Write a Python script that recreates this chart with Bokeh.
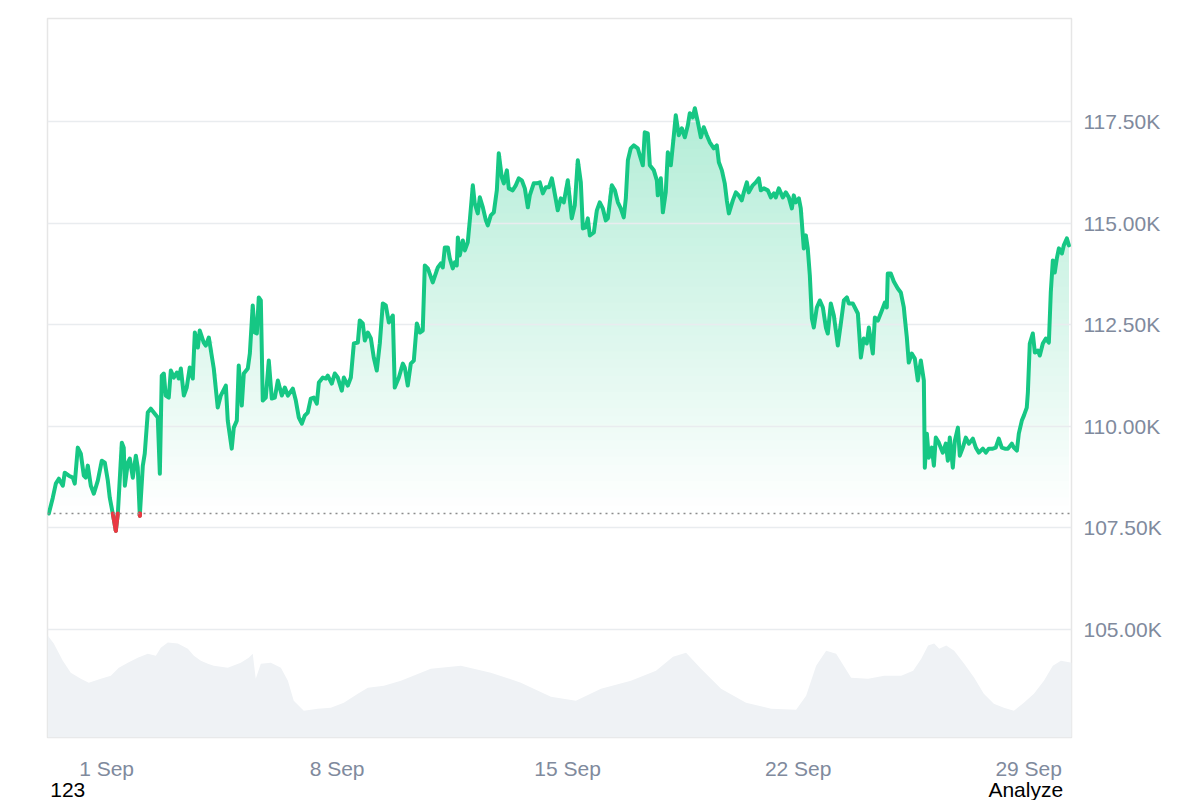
import numpy as np
from bokeh.plotting import figure
from bokeh.models import FixedTicker, Range1d, Span, LinearAxis
from bokeh.embed import file_html
from bokeh.resources import INLINE

# ---- data: hours since 1 Sep 00:00, price in USD ----
hours = [
    -42.1, -39.2, -37.0, -34.8, -31.9, -30.5, -27.5, -24.6, -23.2, -21.0,
    -18.8, -16.6, -15.2, -13.7, -11.5, -9.3, -6.4, -3.5, -1.3, 0.9,
    2.3, 4.5, 6.7, 8.2, 11.1, 12.5, 13.3, 15.5, 16.9, 19.1,
    21.3, 22.7, 24.2, 26.4, 27.8, 30.0, 32.2, 34.4, 37.3, 38.8,
    40.2, 41.7, 43.1, 45.3, 46.8, 49.0, 51.2, 52.6, 54.1, 56.3,
    58.4, 60.6, 62.8, 64.3, 66.5, 67.9, 70.8, 72.3, 74.5, 78.1,
    81.0, 83.2, 86.9, 88.3, 91.2, 92.7, 94.9, 96.3, 98.5, 100.0,
    102.9, 104.4, 106.5, 108.0, 109.5, 110.9, 112.4, 113.8, 116.0, 118.2,
    120.4, 122.6, 124.8, 127.7, 129.9, 132.1, 135.7, 137.9, 140.1, 142.3,
    144.4, 146.6, 148.8, 151.0, 153.2, 154.7, 157.6, 159.8, 161.2, 164.1,
    166.3, 168.5, 171.4, 172.9, 175.8, 178.0, 180.2, 183.1, 184.5, 186.7,
    188.2, 190.4, 192.6, 194.7, 196.9, 199.1, 201.3, 203.5, 205.7, 208.6,
    210.0, 213.0, 215.9, 217.3, 219.5, 221.7, 223.9, 226.1, 228.3, 230.4,
    231.9, 234.1, 237.7, 241.4, 243.6, 245.0, 246.5, 248.7, 250.1, 252.3,
    253.8, 255.2, 256.0, 257.4, 259.6, 261.1, 263.2, 264.7, 266.9, 268.3,
    270.5, 272.0, 274.2, 276.4, 277.8, 280.0, 282.2, 284.4, 285.8, 288.0,
    289.5, 291.7, 293.1, 296.0, 298.2, 300.4, 302.6, 304.8, 307.0, 308.4,
    311.3, 313.5, 315.7, 317.9, 320.1, 322.3, 324.5, 325.9, 328.8, 331.0,
    333.2, 336.1, 339.0, 341.2, 343.4, 345.6, 347.1, 349.2, 350.7, 352.2,
    355.1, 357.3, 359.4, 361.6, 363.8, 365.3, 368.2, 370.4, 372.6, 374.7,
    376.9, 378.4, 379.9, 382.0, 384.2, 387.1, 388.6, 390.8, 392.2, 394.4,
    395.9, 398.8, 401.0, 401.7, 403.9, 405.4, 407.5, 409.0, 411.2, 413.4,
    414.8, 417.0, 419.2, 421.4, 423.6, 425.0, 427.2, 428.7, 430.9, 433.1,
    435.2, 437.4, 439.6, 442.5, 444.7, 446.2, 448.4, 450.5, 452.0, 453.5,
    456.4, 458.6, 460.7, 462.9, 464.4, 466.6, 468.0, 470.9, 473.1, 475.3,
    476.8, 479.0, 481.9, 484.1, 486.3, 487.7, 489.9, 492.8, 495.0, 497.2,
    499.4, 500.8, 502.3, 504.5, 505.9, 508.1, 509.6, 511.0, 512.5, 514.0,
    515.4, 517.6, 519.8, 522.0, 524.2, 525.6, 527.8, 530.0, 532.9, 535.1,
    537.3, 539.5, 540.9, 543.8, 545.3, 547.5, 549.7, 551.8, 554.0, 555.5,
    558.4, 559.9, 562.1, 565.0, 567.2, 568.6, 569.3, 571.5, 573.7, 576.6,
    578.8, 581.0, 581.7, 583.2, 584.6, 586.8, 589.0, 591.2, 593.4, 595.6,
    596.3, 597.8, 599.2, 601.4, 602.9, 604.3, 606.5, 609.4, 611.6, 613.1,
    614.5, 616.7, 618.2, 620.4, 621.8, 624.0, 626.2, 628.4, 631.3, 633.5,
    635.7, 638.6, 640.8, 642.9, 645.9, 648.0, 650.2, 652.4, 654.6, 656.8,
    659.7, 661.2, 663.4, 664.8, 667.0, 668.5, 670.6, 671.4, 672.8, 675.0,
    676.5, 678.7, 680.1, 682.3, 684.5, 686.7, 688.1, 689.6, 691.0, 692.5,
    694.0, 696.2, 697.6, 699.8, 701.3,
]
prices = [
    107850, 108240, 108586, 108709, 108536, 108857, 108783, 108734, 108586, 109474,
    109326, 108783, 108734, 109030, 108536, 108339, 108660, 109153, 109104, 108660,
    108240, 107850, 107426, 107850, 109597, 109474, 108536, 109104, 109202, 108734,
    109276, 108980, 107796, 109030, 109326, 110338, 110436, 110338, 110214, 108832,
    111250, 111300, 110757, 110707, 111374, 111201, 111324, 111176, 111423, 110757,
    110954, 111448, 111176, 112311, 111941, 112360, 112064, 111990, 112188, 111423,
    110461, 110757, 111004, 110140, 109449, 109968, 110140, 111497, 110510, 111300,
    111423, 111793, 112977, 112311, 112287, 113175, 113101, 110634, 110707, 111620,
    110683, 110707, 111127, 110757, 110954, 110757, 110930, 110634, 110214, 110066,
    110263, 110338, 110683, 110707, 110559, 111078, 111201, 111176, 111250, 111053,
    111300, 111201, 110880, 111201, 111004, 111201, 112040, 112064, 112607, 112533,
    112114, 112311, 112163, 111694, 111374, 112040, 113027, 112977, 112558, 112730,
    110954, 111201, 111546, 111448, 111004, 111546, 111620, 112533, 112311, 112360,
    113964, 113890, 113545, 113915, 114014, 113915, 114409, 114409, 114137, 113890,
    114039, 113964, 114655, 114211, 114581, 114334, 114532, 115074, 115938, 115494,
    115247, 115642, 115396, 115074, 114951, 115198, 115272, 115815, 116728, 116136,
    115988, 116308, 115864, 115815, 115938, 116111, 116062, 115864, 115396, 115692,
    115988, 115988, 116012, 115741, 115889, 115889, 116111, 115864, 115322, 115617,
    115519, 116062, 115124, 115445, 116555, 116012, 114877, 114902, 115124, 114704,
    114778, 115322, 115519, 115371, 115074, 115124, 115938, 115815, 115519, 115371,
    115148, 115617, 116555, 116851, 116925, 116851, 116678, 116432, 117246, 117221,
    116432, 116308, 116062, 115692, 116111, 115272, 115766, 116752, 116432, 117172,
    117665, 117172, 117345, 117123, 117419, 117715, 117616, 117838, 117493, 117123,
    117369, 117172, 116999, 116851, 116925, 116506, 116308, 115987, 115568, 115247,
    115568, 115765, 115691, 115568, 115765, 116012, 115765, 115938, 116012, 116111,
    115815, 115864, 115815, 115642, 115741, 115642, 115864, 115642, 115765, 115642,
    115371, 115691, 115519, 115617, 115371, 114384, 114705, 114384, 113717, 112657,
    112434, 112928, 113101, 112928, 112434, 112286, 113027, 112731, 111991, 112533,
    113101, 113175, 113027, 113027, 112928, 112780, 111694, 112163, 112040, 112434,
    111793, 112681, 112607, 112854, 113052, 112928, 113767, 113767, 113569, 113397,
    113298, 112928, 112681, 112188, 111571, 111793, 111670, 111127, 111620, 111127,
    108980, 109819, 109227, 109474, 109030, 109721, 109597, 109350, 109572, 109153,
    109721, 108980, 109646, 109967, 109276, 109474, 109721, 109572, 109696, 109474,
    109350, 109449, 109350, 109449, 109449, 109474, 109696, 109474, 109449, 109449,
    109572, 109474, 109400, 109819, 110140, 110263, 110461, 110831, 112040, 112287,
    111818, 111867, 111744, 112040, 112163, 112064, 113298, 114088, 113791, 114137,
    114384, 114260, 114458, 114630, 114458,
]

# ---- volume (billions USD) ----
vol_hours = [
    -42.9, -38.5, -31.9, -26.1, -18.8, -13.0, -4.2, 3.1, 8.9, 15.5,
    22.7, 30.0, 35.9, 39.5, 44.6, 51.9, 59.2, 63.6, 68.7, 73.8,
    78.1, 88.3, 97.8, 103.6, 106.5, 108.7, 112.4, 119.7, 127.0, 132.1,
    136.4, 143.7, 153.9, 163.4, 172.9, 183.1, 190.4, 202.1, 214.5, 236.3,
    258.2, 280.0, 301.9, 323.8, 342.0, 360.3, 382.1, 400.4, 412.8, 422.3,
    433.2, 447.8, 466.0, 484.3, 502.5, 509.8, 517.1, 524.4, 531.7, 542.6,
    555.0, 566.7, 579.1, 587.8, 593.7, 598.7, 603.1, 606.8, 611.9, 617.7,
    625.0, 632.3, 639.3, 646.6, 653.9, 661.2, 668.5, 675.8, 683.1, 689.6,
    695.5, 703.5,
]
volumes = [
    50.9, 46.9, 38.4, 32.4, 29.4, 27.4, 29.4, 30.9, 34.9, 37.4,
    39.9, 41.9, 40.9, 44.9, 47.4, 46.9, 44.4, 40.9, 38.4, 36.9,
    35.9, 34.9, 37.4, 39.9, 41.9, 29.4, 36.9, 37.4, 34.9, 28.4,
    18.4, 13.4, 14.4, 14.9, 17.4, 21.9, 24.9, 25.9, 28.4, 34.4,
    35.9, 32.4, 27.4, 20.4, 18.4, 24.4, 28.4, 33.4, 40.4, 42.4,
    34.4, 24.4, 17.4, 14.4, 13.9, 20.9, 35.9, 43.4, 41.9, 29.9,
    29.4, 30.9, 30.9, 33.4, 39.4, 45.9, 46.9, 44.4, 45.9, 43.4,
    36.9, 29.9, 21.9, 16.9, 14.9, 13.4, 17.4, 21.9, 28.4, 35.9,
    38.4, 37.4,
]

x_ticks = [0, 168, 336, 504, 672]
x_labels = ["1 Sep", "8 Sep", "15 Sep", "22 Sep", "29 Sep"]
y_ticks = [105000, 107500, 110000, 112500, 115000, 117500]
y_labels = ["105.00K", "107.50K", "110.00K", "112.50K", "115.00K", "117.50K"]
footer_ticks = [-28.3, 669.9]
footer_labels = ["123", "Analyze"]

GREEN_RGB = (22, 199, 132)
GREEN = "#16c784"
RED = "#ea3943"
FONT = "Liberation Sans"

p = figure(frame_width=1024, frame_height=719, output_backend="svg", toolbar_location=None,
           x_range=Range1d(-43.07, 703.2), y_range=Range1d(102330, 120050),
           y_axis_location="right",
           min_border_left=47, min_border_top=18, min_border_right=121, min_border_bottom=40)
p.extra_y_ranges = {"vol": Range1d(0, 359.2)}
p.background_fill_color = "white"
p.border_fill_color = "white"
p.outline_line_color = "#e6e6e6"
p.outline_line_width = 1.5

# volume
p.varea(x=vol_hours, y1=[0] * len(volumes), y2=volumes, y_range_name="vol",
        fill_color="#eff2f5", fill_alpha=1.0)

h = np.array(hours, dtype=float)
pr = np.array(prices, dtype=float)
base = prices[0]
top = pr.max()

# gradient fill: opaque bands painted bottom-up, each band overwriting above its level
N = 50
for k in range(N):
    L = base + (top - base) * k / N
    o = 0.33 * (k + 0.5) / N
    col = "#%02x%02x%02x" % tuple(int(round(255 - o * (255 - c))) for c in GREEN_RGB)
    p.varea(x=h, y1=np.full_like(pr, L), y2=np.maximum(pr, L),
            fill_color=col, fill_alpha=1.0)

# horizontal grid lines drawn over the fill
p.xgrid.visible = False
p.ygrid.visible = False
p.hspan(y=y_ticks, line_color="#e9ecef", line_width=1.5)

# baseline
p.add_layout(Span(location=base, dimension="width", line_color="#8c8c8c",
                  line_width=1.5, line_dash="2 4"))

# price line
p.line(h, pr, line_color=GREEN, line_width=4, line_join="round", line_cap="round")

red_xs, red_ys = [], []
for i in range(len(pr) - 1):
    x0, x1, y0, y1 = h[i], h[i + 1], pr[i], pr[i + 1]
    if y0 >= base and y1 >= base:
        continue
    if y0 < base and y1 < base:
        red_xs.append([x0, x1]); red_ys.append([y0, y1])
    else:
        t = (base - y0) / (y1 - y0)
        xc = x0 + t * (x1 - x0)
        if y0 < base:
            red_xs.append([x0, xc]); red_ys.append([y0, base])
        else:
            red_xs.append([xc, x1]); red_ys.append([base, y1])
if red_xs:
    p.multi_line(red_xs, red_ys, line_color=RED, line_width=4, line_join="round", line_cap="round")

# axes
p.yaxis.ticker = FixedTicker(ticks=y_ticks)
p.yaxis.major_label_overrides = dict(zip(y_ticks, y_labels))
p.xaxis.ticker = FixedTicker(ticks=x_ticks)
p.xaxis.major_label_overrides = dict(zip(x_ticks, x_labels))

footer = LinearAxis(ticker=FixedTicker(ticks=footer_ticks),
                    major_label_overrides=dict(zip(footer_ticks, footer_labels)))
p.add_layout(footer, "below")

for ax in (p.xaxis[0], p.yaxis[0], footer):
    ax.axis_line_color = None
    ax.major_tick_line_color = None
    ax.minor_tick_line_color = None
    ax.major_tick_out = 0
    ax.major_tick_in = 0
    ax.major_label_text_color = "#808a9d"
    ax.major_label_text_font = FONT
    ax.major_label_text_font_size = "21px"
p.xaxis[0].major_label_standoff = 19
p.yaxis[0].major_label_standoff = 12
footer.major_label_standoff = -5
footer.major_label_text_color = "black"

open("out.html", "w").write(file_html(p, INLINE))
